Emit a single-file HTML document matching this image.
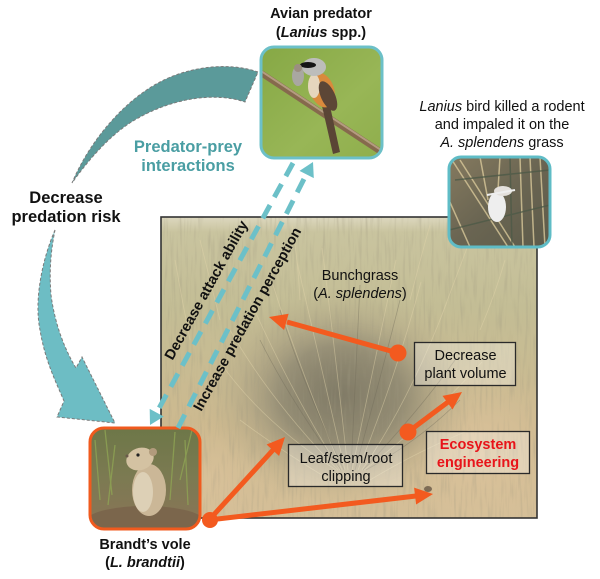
<!DOCTYPE html>
<html><head><meta charset="utf-8">
<style>
html,body{margin:0;padding:0;background:#fff;}
svg{display:block;}
text{font-family:"Liberation Sans",Arial,sans-serif;}
</style></head><body>
<svg width="600" height="579" viewBox="0 0 600 579" xmlns="http://www.w3.org/2000/svg">
<defs>
 <linearGradient id="field" x1="0" y1="0" x2="0" y2="1">
  <stop offset="0" stop-color="#ddd8bf"/>
  <stop offset="0.05" stop-color="#c9c49f"/>
  <stop offset="0.3" stop-color="#c3bd95"/>
  <stop offset="0.7" stop-color="#cdb98f"/>
  <stop offset="1" stop-color="#d5bf98"/>
 </linearGradient>
 <radialGradient id="tuft" cx="0.5" cy="0.5" r="0.5">
  <stop offset="0" stop-color="#837d69"/>
  <stop offset="0.45" stop-color="#968f77" stop-opacity="0.9"/>
  <stop offset="1" stop-color="#b9ae8b" stop-opacity="0"/>
 </radialGradient>
 <radialGradient id="sand" cx="0.5" cy="0.5" r="0.5">
  <stop offset="0" stop-color="#dcc39c"/>
  <stop offset="1" stop-color="#d6bf98" stop-opacity="0"/>
 </radialGradient>
 <linearGradient id="birdbg" x1="0" y1="0" x2="1" y2="1">
  <stop offset="0" stop-color="#86a845"/>
  <stop offset="0.6" stop-color="#98b656"/>
  <stop offset="1" stop-color="#8fae4c"/>
 </linearGradient>
 <linearGradient id="volebg" x1="0" y1="0" x2="0" y2="1">
  <stop offset="0" stop-color="#6d7748"/>
  <stop offset="0.5" stop-color="#7c7a52"/>
  <stop offset="1" stop-color="#8a7457"/>
 </linearGradient>
 <linearGradient id="impbg" x1="0" y1="0" x2="1" y2="1">
  <stop offset="0" stop-color="#857a5f"/>
  <stop offset="0.5" stop-color="#6a6552"/>
  <stop offset="1" stop-color="#5d5b4a"/>
 </linearGradient>
 <clipPath id="mainclip"><rect x="161" y="217" width="376" height="301"/></clipPath>
 <clipPath id="birdclip"><rect x="261" y="47" width="121" height="111" rx="13"/></clipPath>
 <clipPath id="voleclip"><rect x="90" y="428" width="110" height="101" rx="14"/></clipPath>
 <clipPath id="impclip"><rect x="449" y="157" width="101" height="90" rx="12"/></clipPath>
 <filter id="grain" x="0" y="0" width="100%" height="100%">
  <feTurbulence type="fractalNoise" baseFrequency="0.35 0.03" numOctaves="2" seed="4"/>
  <feColorMatrix type="matrix" values="0 0 0 0 0.35  0 0 0 0 0.32  0 0 0 0 0.22  1.6 0 0 0 -0.78"/>
 </filter>
 <filter id="soft" x="-50%" y="-50%" width="200%" height="200%"><feGaussianBlur stdDeviation="14"/></filter>
</defs>

<!-- curved arrows -->
<path d="M258,72 C230,62 190,66 160,82 C125,100 90,140 72,183 C92,155 115,130 140,117 C175,98 215,92 245,102 Z" fill="#5b9a9a" stroke="#7a7a7a" stroke-width="1" stroke-dasharray="3,2"/>
<path d="M55,230 C42,260 34,300 40,330 C45,360 55,380 64,401 L57,417 L115,423 L82,357 L76,368 C65,350 55,325 51,295 C49,270 51,250 55,230 Z" fill="#6dbdc4" stroke="#7a7a7a" stroke-width="1" stroke-dasharray="3,2"/>

<!-- main photo -->
<g clip-path="url(#mainclip)">
 <rect x="161" y="217" width="376" height="301" fill="url(#field)"/>
 <ellipse cx="480" cy="455" rx="110" ry="90" fill="url(#sand)"/>
 <ellipse cx="210" cy="480" rx="70" ry="60" fill="url(#sand)" opacity="0.6"/>
 <ellipse cx="340" cy="395" rx="135" ry="108" fill="url(#tuft)"/>
 <ellipse cx="350" cy="405" rx="70" ry="55" fill="#7d7864" opacity="0.3" filter="url(#soft)"/>
 <rect x="161" y="217" width="376" height="301" filter="url(#grain)" opacity="0.55"/>
 <g stroke="#e4d6ac" stroke-width="0.8" opacity="0.45" fill="none">
  <path d="M340,470 Q290,390 250,300 M342,470 Q300,370 272,282 M345,470 Q320,360 297,262 M348,470 Q335,350 322,248 M352,470 Q375,360 396,260 M358,470 Q395,380 421,282 M362,470 Q410,400 447,302 M338,470 Q270,400 230,330 M364,470 Q430,420 482,362 M336,470 Q260,420 220,362 M330,480 Q280,450 240,420 M370,480 Q420,450 470,430"/>
  <path d="M300,300 Q298,260 292,225 M410,300 Q420,260 430,225 M440,320 Q455,280 470,240 M220,320 Q210,280 200,240 M480,330 Q495,295 505,260 M190,340 Q182,300 175,260"/>
 </g>
 <g stroke="#6f6a58" stroke-width="0.8" opacity="0.4" fill="none">
  <path d="M344,470 Q305,390 280,310 M351,470 Q355,380 360,285 M355,470 Q380,380 400,300 M341,470 Q290,400 260,340 M363,470 Q420,410 455,360 M366,470 Q420,440 460,400"/>
 </g>
 <ellipse cx="428" cy="489" rx="4" ry="3" fill="#5a4a3a" opacity="0.7"/>
</g>
<rect x="161" y="217" width="376" height="301" fill="none" stroke="#333" stroke-width="1.6"/>

<!-- bird photo -->
<g clip-path="url(#birdclip)">
 <rect x="261" y="47" width="121" height="111" fill="url(#birdbg)"/>
 <line x1="258" y1="71" x2="384" y2="154" stroke="#86694d" stroke-width="6"/>
 <line x1="258" y1="69" x2="384" y2="152" stroke="#b49c80" stroke-width="2"/>
 <polygon points="322,106 330,106 340,152 333,154" fill="#5a4535"/>
 <ellipse cx="322" cy="90" rx="12" ry="18" fill="#d98a3c" transform="rotate(-20 322 90)"/>
 <ellipse cx="314" cy="86" rx="6" ry="12" fill="#e6d6bd"/>
 <ellipse cx="328" cy="96" rx="7" ry="16" fill="#5c4636" transform="rotate(-25 328 96)"/>
 <ellipse cx="314" cy="67" rx="12" ry="9" fill="#bdbdbb"/>
 <ellipse cx="308" cy="65" rx="8" ry="3" fill="#151515"/>
 <ellipse cx="298" cy="76" rx="6" ry="10" fill="#a9a7a1"/>
 <circle cx="298" cy="68" r="4" fill="#9b8e80"/>
</g>
<rect x="261" y="47" width="121" height="111" rx="13" fill="none" stroke="#6cc0c8" stroke-width="3"/>

<!-- impaled photo -->
<g clip-path="url(#impclip)">
 <rect x="449" y="157" width="101" height="90" fill="url(#impbg)"/>
 <g stroke="#d9c99a" stroke-width="1.5" opacity="0.8">
  <line x1="452" y1="160" x2="508" y2="247"/>
  <line x1="460" y1="160" x2="515" y2="247"/>
  <line x1="520" y1="157" x2="523" y2="247"/>
  <line x1="530" y1="157" x2="534" y2="247"/>
  <line x1="540" y1="157" x2="545" y2="247"/>
  <line x1="480" y1="157" x2="488" y2="200"/>
  <line x1="500" y1="157" x2="498" y2="190"/>
  <line x1="449" y1="200" x2="470" y2="247"/>
 </g>
 <g stroke="#4e5a48" stroke-width="1.5" opacity="0.8">
  <line x1="449" y1="230" x2="550" y2="205"/>
  <line x1="455" y1="180" x2="550" y2="170"/>
  <line x1="510" y1="157" x2="512" y2="247"/>
 </g>
 <ellipse cx="497" cy="207" rx="9" ry="15" fill="#eeeeee"/>
 <ellipse cx="503" cy="191" rx="9" ry="5" fill="#e4e0dc"/>
 <line x1="487" y1="195" x2="515" y2="190" stroke="#eee" stroke-width="2"/>
</g>
<rect x="449" y="157" width="101" height="90" rx="12" fill="none" stroke="#5fbcc6" stroke-width="3"/>

<!-- vole photo -->
<g clip-path="url(#voleclip)">
 <rect x="90" y="428" width="110" height="101" fill="url(#volebg)"/>
 <g stroke="#8fa454" stroke-width="1.3" opacity="0.8">
  <line x1="95" y1="440" x2="100" y2="500"/><line x1="105" y1="430" x2="112" y2="495"/>
  <line x1="175" y1="432" x2="170" y2="500"/><line x1="185" y1="440" x2="188" y2="505"/>
  <line x1="192" y1="430" x2="180" y2="480"/><line x1="115" y1="445" x2="108" y2="505"/>
 </g>
 <ellipse cx="145" cy="522" rx="60" ry="16" fill="#7b664c"/>
 <ellipse cx="149" cy="490" rx="17" ry="26" fill="#cbb797"/>
 <ellipse cx="143" cy="492" rx="10" ry="20" fill="#ddd0b6"/>
 <ellipse cx="140" cy="459" rx="14" ry="11" fill="#d4c2a2" transform="rotate(-20 140 459)"/>
 <circle cx="153" cy="452" r="4" fill="#b19b7c"/>
 <circle cx="138" cy="455" r="1.6" fill="#222"/>
 <circle cx="127" cy="456" r="1.5" fill="#6a5a4a"/>
</g>
<rect x="90" y="428" width="110" height="101" rx="14" fill="none" stroke="#f05a1e" stroke-width="3"/>

<!-- teal dashed arrows -->
<g stroke="#6cc0c8" stroke-width="5" stroke-dasharray="15,9" fill="none">
 <line x1="293" y1="163" x2="157" y2="412"/>
 <line x1="178" y1="428" x2="306" y2="175"/>
</g>
<polygon points="150,425 163.7,416.5 149.7,408.9" fill="#6cc0c8"/>
<polygon points="313,162 313.8,178.1 299.5,170.9" fill="#6cc0c8"/>

<!-- rotated labels -->
<text x="206" y="290" dy="0.35em" text-anchor="middle" font-weight="bold" font-size="14.5" fill="#111" transform="rotate(-61 206 290)">Decrease attack ability</text>
<text x="247" y="319" dy="0.35em" text-anchor="middle" font-weight="bold" font-size="14.5" fill="#111" transform="rotate(-61 247 319)">Increase predation perception</text>

<!-- orange arrows -->
<g stroke="#f35a1f" stroke-width="5" fill="none">
 <line x1="209" y1="520" x2="273" y2="450"/>
 <line x1="209" y1="520" x2="416" y2="496"/>
 <line x1="398" y1="353" x2="287" y2="322"/>
 <line x1="408" y1="432" x2="448" y2="402"/>
</g>
<g fill="#f35a1f">
 <polygon points="285,437 279.1,456 266.6,444.5"/>
 <polygon points="433,494 416.1,504.5 414.1,487.6"/>
 <polygon points="269,317 288.6,313.7 284.1,330"/>
 <polygon points="462,392 452.6,409.5 442.5,395.9"/>
 <circle cx="210" cy="520" r="8"/>
 <circle cx="398" cy="353" r="8.5"/>
 <circle cx="408" cy="432" r="8.5"/>
</g>

<!-- boxes -->
<g fill="#ffffff" fill-opacity="0.3" stroke="#2a2a2a" stroke-width="1.3">
 <rect x="414.5" y="342.5" width="101" height="43"/>
 <rect x="288.5" y="444.5" width="114" height="42"/>
 <rect x="426.5" y="431.5" width="103" height="42"/>
</g>

<!-- text -->
<g font-size="14.5" fill="#111" text-anchor="middle">
 <text x="321" y="18" font-weight="bold">Avian predator</text>
 <text x="321" y="37" font-weight="bold">(<tspan font-style="italic">Lanius</tspan> spp.)</text>
 <text x="502" y="111"><tspan font-style="italic">Lanius</tspan> bird killed a rodent</text>
 <text x="502" y="129">and impaled it on the</text>
 <text x="502" y="147"><tspan font-style="italic">A. splendens</tspan> grass</text>
 <text x="360" y="280">Bunchgrass</text>
 <text x="360" y="298">(<tspan font-style="italic">A. splendens</tspan>)</text>
 <text x="465.5" y="360">Decrease</text>
 <text x="465.5" y="378">plant volume</text>
 <text x="346" y="463">Leaf/stem/root</text>
 <text x="346" y="481">clipping</text>
 <text x="478" y="449" font-weight="bold" fill="#e8141a">Ecosystem</text>
 <text x="478" y="467" font-weight="bold" fill="#e8141a">engineering</text>
 <text x="145" y="549" font-weight="bold">Brandt’s vole</text>
 <text x="145" y="567" font-weight="bold">(<tspan font-style="italic">L. brandtii</tspan>)</text>
</g>
<g font-size="16.5" font-weight="bold" text-anchor="middle">
 <text x="188" y="152" fill="#4a9ea3">Predator-prey</text>
 <text x="188" y="171" fill="#4a9ea3">interactions</text>
 <text x="66" y="203" fill="#111">Decrease</text>
 <text x="66" y="222" fill="#111">predation risk</text>
</g>
</svg>
</body></html>
